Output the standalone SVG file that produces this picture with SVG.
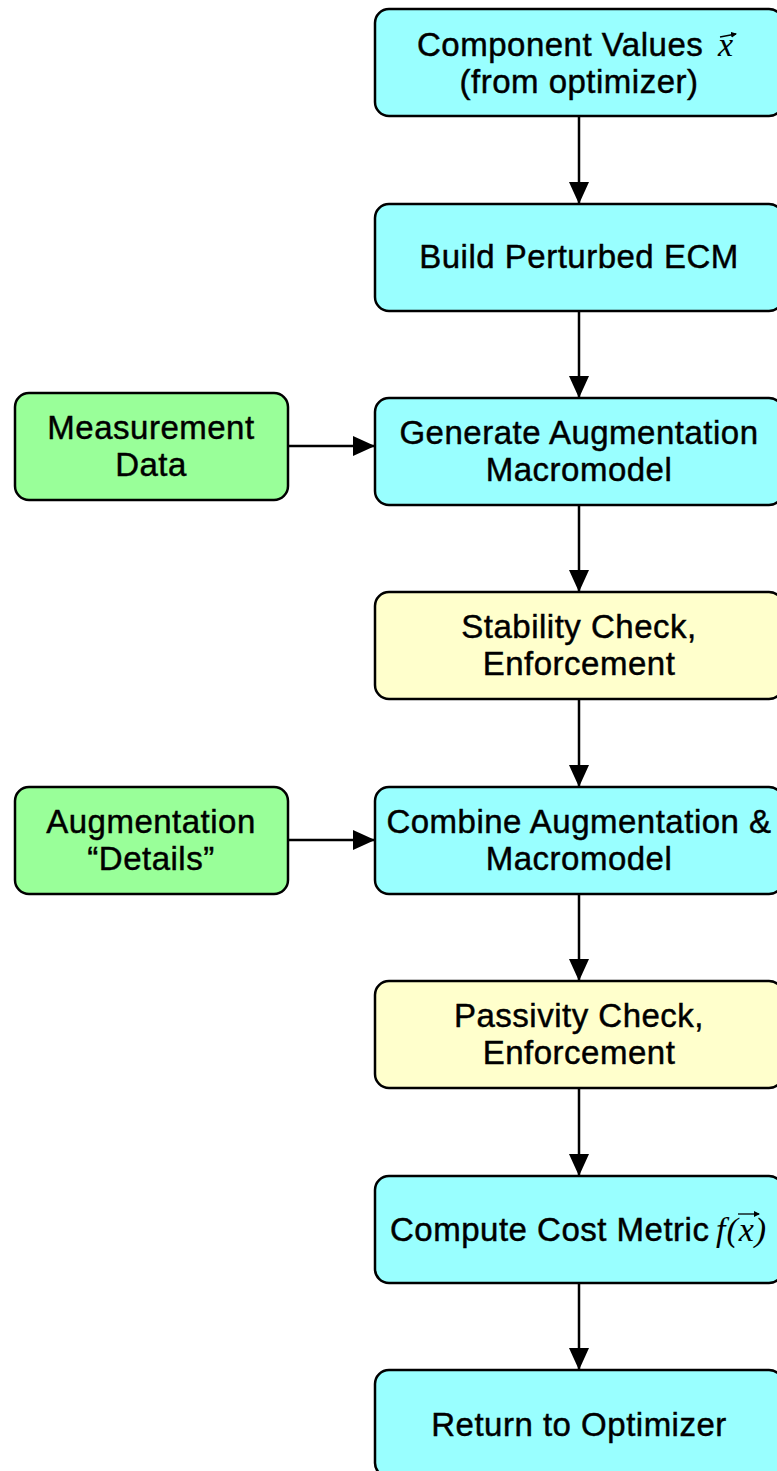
<svg xmlns="http://www.w3.org/2000/svg" width="777" height="1471" viewBox="0 0 777 1471">
  <defs>
    <marker id="head" markerUnits="userSpaceOnUse" markerWidth="22" markerHeight="20" refX="22" refY="10" orient="auto">
      <path d="M0,0 L22,10 L0,20 Z" fill="#000"/>
    </marker>
    <marker id="vec" markerUnits="userSpaceOnUse" markerWidth="6" markerHeight="6" refX="5" refY="3" orient="auto">
      <path d="M0,0 L6,3 L0,6 Z" fill="#000"/>
    </marker>
  </defs>
  <style>
    .box { stroke: #000; stroke-width: 2.5; }
    .cyan { fill: #99ffff; }
    .yellow { fill: #ffffcc; }
    .green { fill: #99ff99; }
    .lbl { font-family: "Liberation Sans", Arial, sans-serif; font-size: 33px; fill: #000; stroke: #000; stroke-width: 0.45; text-anchor: middle; letter-spacing: 0.5px; }
    .start { text-anchor: start; }
    .math { font-family: "Liberation Serif", "Times New Roman", serif; font-style: italic; font-size: 34px; fill: #000; letter-spacing: 1px; }
    .conn { stroke: #000; stroke-width: 2.5; fill: none; marker-end: url(#head); }
    .vline { stroke: #000; stroke-width: 1.3; fill: none; marker-end: url(#vec); }
  </style>
  <rect width="777" height="1471" fill="#fff"/>

  <g id="connectors">
    <line class="conn" x1="579" y1="116" x2="579" y2="204"/>
    <line class="conn" x1="579" y1="310" x2="579" y2="398"/>
    <line class="conn" x1="579" y1="505" x2="579" y2="592"/>
    <line class="conn" x1="579" y1="699" x2="579" y2="787"/>
    <line class="conn" x1="579" y1="893" x2="579" y2="981"/>
    <line class="conn" x1="579" y1="1088" x2="579" y2="1176"/>
    <line class="conn" x1="579" y1="1283" x2="579" y2="1370"/>
    <line class="conn" x1="288" y1="446" x2="375" y2="446"/>
    <line class="conn" x1="288" y1="840" x2="375" y2="840"/>
  </g>

  <g id="component-values">
    <rect class="box cyan" x="375" y="9" width="408" height="107" rx="14"/>
    <text class="lbl start" x="417" y="56">Component Values</text>
    <text class="math" x="718" y="56">x</text>
    <line class="vline" x1="720" y1="37" x2="736" y2="34"/>
    <text class="lbl" x="579" y="93">(from optimizer)</text>
  </g>

  <g id="build-ecm">
    <rect class="box cyan" x="375" y="204" width="408" height="107" rx="14"/>
    <text class="lbl" x="579" y="268">Build Perturbed ECM</text>
  </g>

  <g id="generate-macromodel">
    <rect class="box cyan" x="375" y="398" width="408" height="107" rx="14"/>
    <text class="lbl" x="579" y="444">Generate Augmentation</text>
    <text class="lbl" x="579" y="481">Macromodel</text>
  </g>

  <g id="measurement-data">
    <rect class="box green" x="15" y="393" width="273" height="107" rx="14"/>
    <text class="lbl" x="151" y="439">Measurement</text>
    <text class="lbl" x="151" y="476">Data</text>
  </g>

  <g id="stability-check">
    <rect class="box yellow" x="375" y="592" width="408" height="107" rx="14"/>
    <text class="lbl" x="579" y="638">Stability Check,</text>
    <text class="lbl" x="579" y="675">Enforcement</text>
  </g>

  <g id="combine">
    <rect class="box cyan" x="375" y="787" width="408" height="107" rx="14"/>
    <text class="lbl" x="579" y="833">Combine Augmentation &amp;</text>
    <text class="lbl" x="579" y="870">Macromodel</text>
  </g>

  <g id="augmentation-details">
    <rect class="box green" x="15" y="787" width="273" height="107" rx="14"/>
    <text class="lbl" x="151" y="833">Augmentation</text>
    <text class="lbl" x="151" y="870">“Details”</text>
  </g>

  <g id="passivity-check">
    <rect class="box yellow" x="375" y="981" width="408" height="107" rx="14"/>
    <text class="lbl" x="579" y="1027">Passivity Check,</text>
    <text class="lbl" x="579" y="1064">Enforcement</text>
  </g>

  <g id="cost-metric">
    <rect class="box cyan" x="375" y="1176" width="408" height="107" rx="14"/>
    <text class="lbl start" x="390" y="1241">Compute Cost Metric</text>
    <text class="math" x="716" y="1241">f(x)</text>
    <line class="vline" x1="738" y1="1214" x2="759" y2="1214"/>
  </g>

  <g id="return">
    <rect class="box cyan" x="375" y="1370" width="408" height="107" rx="14"/>
    <text class="lbl" x="579" y="1436">Return to Optimizer</text>
  </g>
</svg>
